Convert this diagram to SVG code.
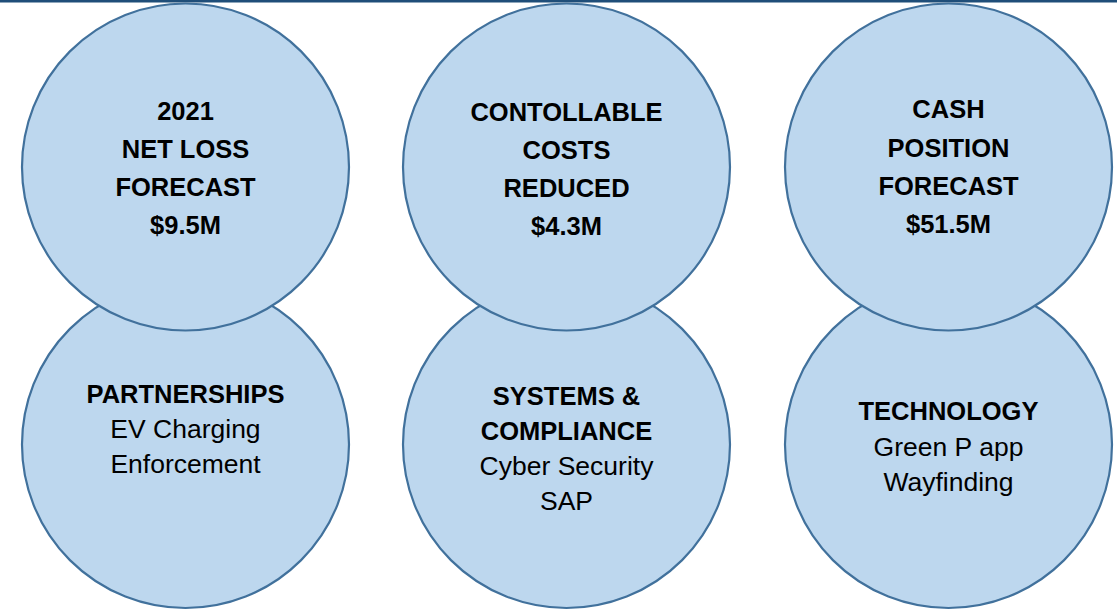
<svg xmlns="http://www.w3.org/2000/svg" width="1117" height="610" viewBox="0 0 1117 610">
  <style>
    .bubble { fill: #BDD7EE; stroke: #41719C; stroke-width: 2.2; }
    .t { font-family: "Liberation Sans", Arial, sans-serif; font-size: 26.5px; fill: #000; text-anchor: middle; }
    .b { font-weight: bold; font-size: 25.5px; }
  </style>
  <rect x="0" y="0" width="1117" height="610" fill="#FFFFFF"/>
  <rect x="0" y="0" width="1117" height="2.5" fill="#1F4E79"/>

  <!-- lower row (drawn first, sits behind the upper row) -->
  <g id="partnerships">
    <circle class="bubble" cx="185.5" cy="444.5" r="163.5"/>
    <text class="t b" x="185.5" y="403">PARTNERSHIPS</text>
    <text class="t" x="185.5" y="438">EV Charging</text>
    <text class="t" x="185.5" y="473">Enforcement</text>
  </g>
  <g id="systems-compliance">
    <circle class="bubble" cx="566.5" cy="444.5" r="163.5"/>
    <text class="t b" x="566.5" y="405">SYSTEMS &amp;</text>
    <text class="t b" x="566.5" y="440">COMPLIANCE</text>
    <text class="t" x="566.5" y="475">Cyber Security</text>
    <text class="t" x="566.5" y="510">SAP</text>
  </g>
  <g id="technology">
    <circle class="bubble" cx="948.5" cy="444.5" r="163.5"/>
    <text class="t b" x="948.5" y="420">TECHNOLOGY</text>
    <text class="t" x="948.5" y="456">Green P app</text>
    <text class="t" x="948.5" y="491">Wayfinding</text>
  </g>

  <!-- upper row -->
  <g id="net-loss">
    <circle class="bubble" cx="185.5" cy="167" r="163.5"/>
    <text class="t b" x="185.5" y="120">2021</text>
    <text class="t b" x="185.5" y="158">NET LOSS</text>
    <text class="t b" x="185.5" y="196">FORECAST</text>
    <text class="t b" x="185.5" y="234">$9.5M</text>
  </g>
  <g id="controllable-costs">
    <circle class="bubble" cx="566.5" cy="167" r="163.5"/>
    <text class="t b" x="566.5" y="121">CONTOLLABLE</text>
    <text class="t b" x="566.5" y="159">COSTS</text>
    <text class="t b" x="566.5" y="197">REDUCED</text>
    <text class="t b" x="566.5" y="235">$4.3M</text>
  </g>
  <g id="cash-position">
    <circle class="bubble" cx="948.5" cy="167" r="163.5"/>
    <text class="t b" x="948.5" y="118">CASH</text>
    <text class="t b" x="948.5" y="157">POSITION</text>
    <text class="t b" x="948.5" y="195">FORECAST</text>
    <text class="t b" x="948.5" y="233">$51.5M</text>
  </g>

  <!-- no connectors between the bubbles -->
  <g id="connectors"/>
</svg>
